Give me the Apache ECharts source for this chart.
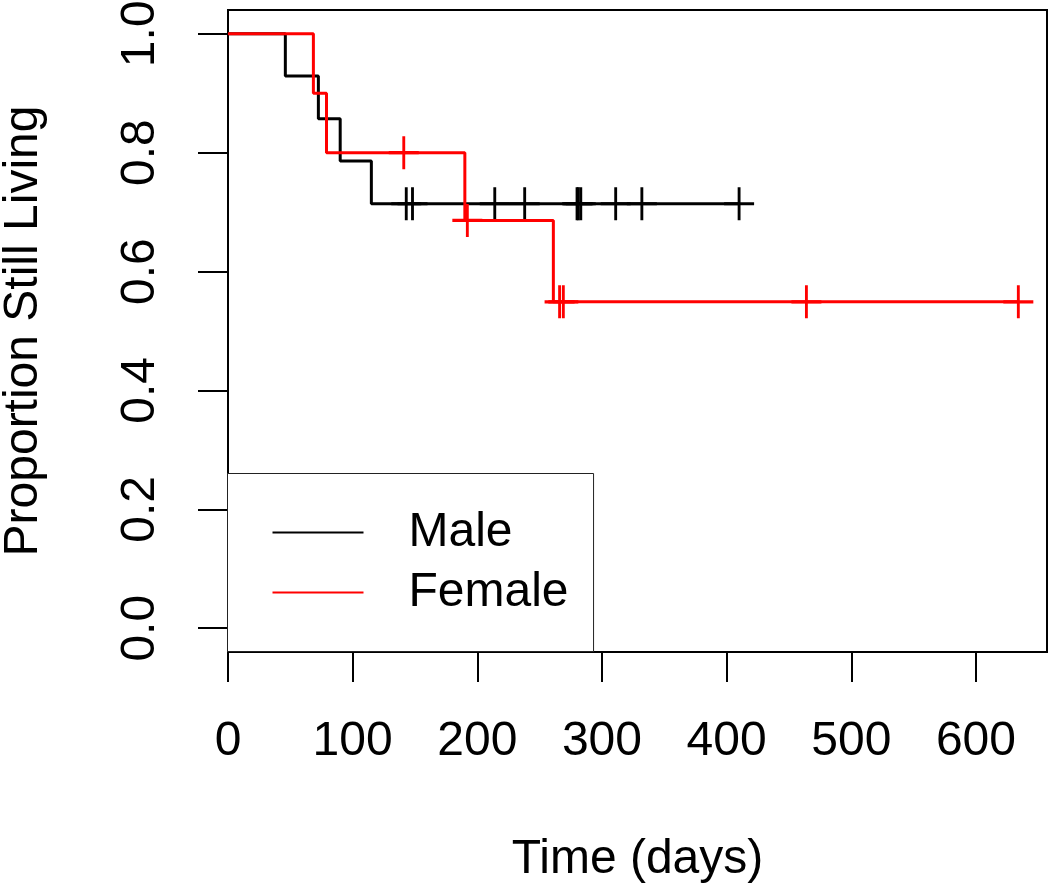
<!DOCTYPE html>
<html>
<head>
<meta charset="utf-8">
<title>Proportion Still Living</title>
<script src="https://cdn.jsdelivr.net/npm/echarts@6/dist/echarts.min.js"></script>
<style>
  html, body { margin: 0; padding: 0; background: #fff; }
  #chart { width: 1050px; height: 889px; }
</style>
</head>
<body>
<div id="chart"></div>
<script>
// step points (days, survival)
const maleTimes = [0, 46, 72.5, 90, 115, 410];
const maleSurv = [1, 0.929, 0.857, 0.786, 0.714, 0.714];
const femaleTimes = [0, 68.5, 79, 190, 261, 634];
const femaleSurv = [1, 0.9, 0.8, 0.686, 0.549, 0.549];

// censor marks (+)
const maleCensorTimes = [143, 148, 214, 238, 280, 281, 283, 311, 332, 410];
const maleCensorSurv = [0.714, 0.714, 0.714, 0.714, 0.714, 0.714, 0.714, 0.714, 0.714, 0.714];
const femaleCensorTimes = [141, 192, 266, 269, 464, 634];
const femaleCensorSurv = [0.8, 0.686, 0.549, 0.549, 0.549, 0.549];

// tick labels
const xTicks = [0, 100, 200, 300, 400, 500, 600];
const yTicks = [0, 0.2, 0.4, 0.6, 0.8, 1.0];

const FONT = "'Liberation Sans', Arial, sans-serif";
const plus = 'path://M15,0 L15,33 M0,16.5 L30,16.5';

function pairs(xs, ys) {
  return xs.map((x, i) => [x, ys[i]]);
}

const chart = echarts.init(document.getElementById('chart'));
const option = {
  animation: false,
  backgroundColor: '#fff',
  grid: {
    left: 228,
    right: 3,
    top: 10,
    bottom: 237,
    outerBoundsMode: 'none', // no auto shrink for labels
    containLabel: false,
    show: true,
    borderColor: '#000',
    borderWidth: 2,
    backgroundColor: 'transparent'
  },
  legend: {
    data: ['Male', 'Female'],
    orient: 'vertical',
    left: 227.5,
    top: 473.5,
    padding: [35, 25, 35, 44],
    itemWidth: 91,
    itemHeight: 48,
    itemGap: 12,
    backgroundColor: '#fff',
    borderColor: '#222',
    borderWidth: 1,
    borderRadius: 0,
    selectedMode: false,
    // hide the symbol that the line legend icon adds
    itemStyle: { color: 'transparent', opacity: 0, borderWidth: 0 },
    textStyle: {
      fontFamily: FONT,
      fontSize: 48,
      color: '#000',
      padding: [0, 0, 0, 40]
    }
  },
  xAxis: {
    type: 'value',
    min: 0,
    max: 657,
    name: 'Time (days)',
    nameLocation: 'middle',
    nameGap: 184,
    nameTextStyle: { fontFamily: FONT, fontSize: 48, color: '#000' },
    axisLine: { show: false, onZero: false },
    splitLine: { show: false },
    axisTick: {
      show: true,
      length: 30,
      customValues: xTicks,
      lineStyle: { color: '#000', width: 2 }
    },
    axisLabel: {
      customValues: xTicks,
      margin: 66,
      fontFamily: FONT,
      fontSize: 48,
      color: '#000'
    }
  },
  yAxis: {
    type: 'value',
    min: -0.04,
    max: 1.04,
    name: 'Proportion Still Living',
    nameLocation: 'middle',
    nameGap: 180,
    nameTextStyle: { fontFamily: FONT, fontSize: 48, color: '#000' },
    axisLine: { show: false, onZero: false },
    splitLine: { show: false },
    axisTick: {
      show: true,
      length: 30,
      customValues: yTicks,
      lineStyle: { color: '#000', width: 2 }
    },
    axisLabel: {
      customValues: yTicks,
      rotate: 90,
      margin: 63,
      fontFamily: FONT,
      fontSize: 48,
      color: '#000',
      formatter: v => v.toFixed(1)
    }
  },
  series: [
    {
      name: 'Male',
      type: 'line',
      step: 'end',
      symbol: 'none',
      data: pairs(maleTimes, maleSurv),
      lineStyle: { color: '#000', width: 3 },
      itemStyle: { color: '#000' },
      z: 2
    },
    {
      name: 'Male censored',
      type: 'scatter',
      symbol: plus,
      symbolSize: [30, 33],
      data: pairs(maleCensorTimes, maleCensorSurv),
      itemStyle: { color: 'transparent', borderColor: '#000', borderWidth: 3, opacity: 1 },
      z: 2
    },
    {
      name: 'Female',
      type: 'line',
      step: 'end',
      symbol: 'none',
      data: pairs(femaleTimes, femaleSurv),
      lineStyle: { color: '#ff0000', width: 3 },
      itemStyle: { color: '#ff0000' },
      z: 3
    },
    {
      name: 'Female censored',
      type: 'scatter',
      symbol: plus,
      symbolSize: [30, 33],
      data: pairs(femaleCensorTimes, femaleCensorSurv),
      itemStyle: { color: 'transparent', borderColor: '#ff0000', borderWidth: 3, opacity: 1 },
      z: 3
    }
  ]
};
chart.setOption(option);
</script>
</body>
</html>
